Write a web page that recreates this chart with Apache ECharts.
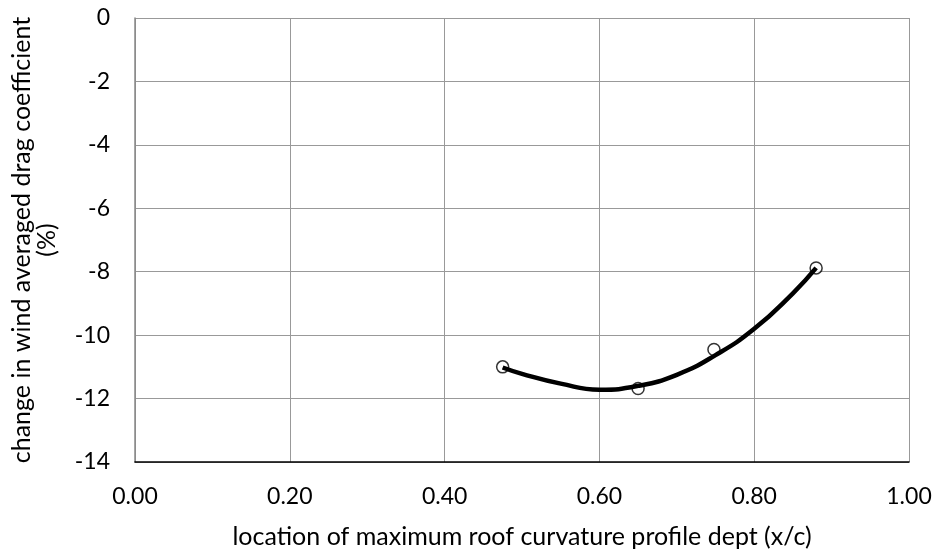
<!DOCTYPE html>
<html>
<head>
<meta charset="utf-8">
<script src="https://cdn.jsdelivr.net/npm/echarts@6/dist/echarts.min.js"></script>
<style>
  html, body { margin: 0; padding: 0; background: #fff; }
  #chart { width: 938px; height: 558px; }
</style>
</head>
<body>
<div id="chart"></div>
<script>
// Measured points: roof curvature location vs. change in drag coefficient (%)
const locations = [0.475, 0.65, 0.748, 0.88];
const dragChange = [-11.0, -11.68, -10.45, -7.88];

// Polynomial trend line sampled along the fitted range
const trendX = [0.475, 0.5, 0.55, 0.6, 0.65, 0.7, 0.75, 0.8, 0.85, 0.88];
const trendY = [-11.02, -11.22, -11.53, -11.72, -11.6, -11.25, -10.63, -9.8, -8.68, -7.88];

const FONT = 'Lato';

const chart = echarts.init(document.getElementById('chart'));
chart.setOption({
  animation: false,
  backgroundColor: '#ffffff',
  grid: { left: 135, right: 29, top: 18, bottom: 96, containLabel: false, outerBoundsMode: 'none' },
  xAxis: {
    type: 'value',
    min: 0, max: 1, interval: 0.2,
    name: 'location of maximum roof curvature profile dept (x/c)',
    nameLocation: 'middle',
    nameGap: 62,
    nameTextStyle: { fontFamily: FONT, fontSize: 25, color: '#000' },
    axisLine: { show: true, onZero: false, lineStyle: { color: '#000', width: 1.5 } },
    axisTick: { show: false },
    axisLabel: {
      margin: 23,
      fontFamily: FONT, fontSize: 23, color: '#000',
      formatter: v => v.toFixed(2)
    },
    splitLine: { show: true, lineStyle: { color: '#999', width: 1 } }
  },
  yAxis: {
    type: 'value',
    min: -14, max: 0, interval: 2,
    name: 'change in wind averaged drag coefficient\n(%)',
    nameLocation: 'middle',
    nameGap: 76,
    nameRotate: 90,
    nameTextStyle: { fontFamily: FONT, fontSize: 25, color: '#000', lineHeight: 25, align: 'center' },
    axisLine: { show: true, onZero: false, lineStyle: { color: '#888', width: 1.5 } },
    axisTick: { show: false },
    axisLabel: { margin: 25, fontFamily: FONT, fontSize: 23, color: '#000' },
    splitLine: { show: true, lineStyle: { color: '#999', width: 1 } }
  },
  series: [
    {
      type: 'scatter',
      data: locations.map((x, i) => [x, dragChange[i]]),
      symbol: 'circle',
      symbolSize: 12,
      itemStyle: { color: '#fff', borderColor: '#000', borderWidth: 1.5 },
      z: 2
    },
    {
      type: 'line',
      data: trendX.map((x, i) => [x, trendY[i]]),
      smooth: 0.5,
      showSymbol: false,
      lineStyle: { color: '#000', width: 4.5 },
      z: 3
    }
  ]
});
</script>
</body>
</html>
